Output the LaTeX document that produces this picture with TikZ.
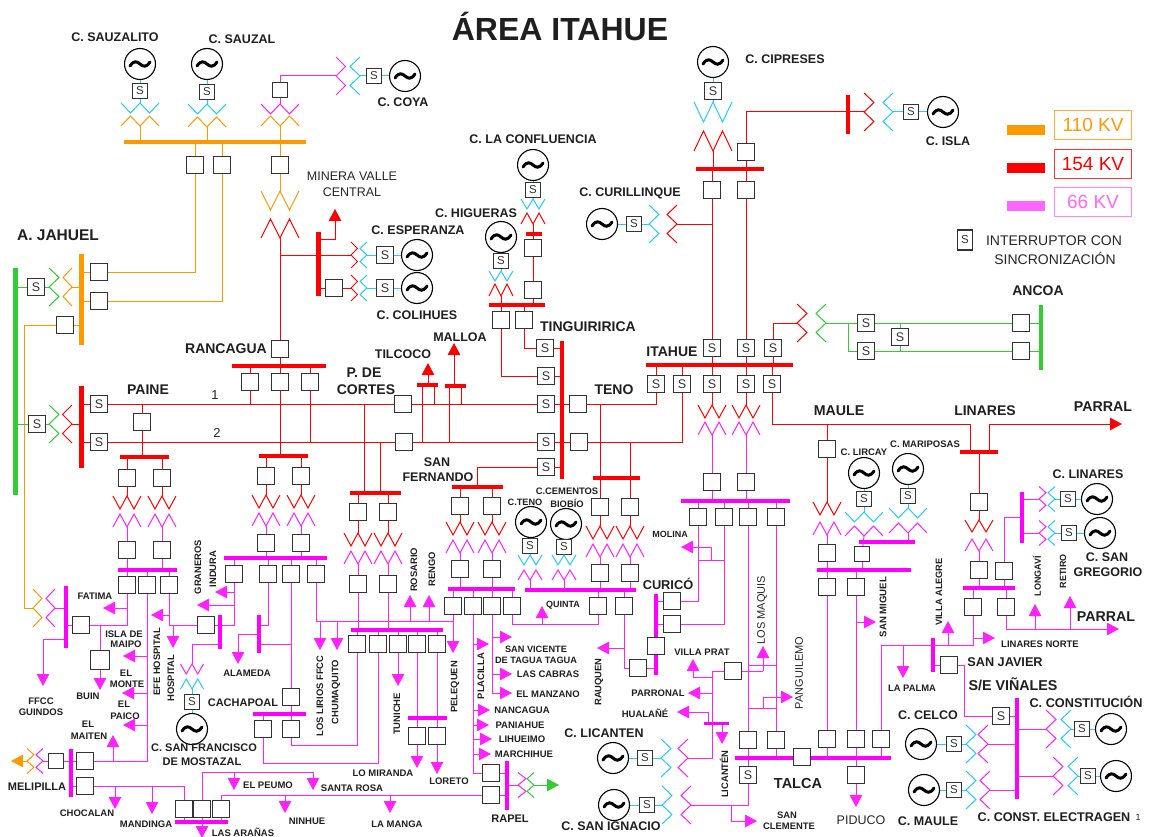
\documentclass[tikz,border=0pt]{standalone}
\usepackage{fontspec}
\setmainfont{Liberation Sans}
\usetikzlibrary{arrows.meta}
\pgfdeclarelayer{bg}\pgfsetlayers{bg,main}
\definecolor{cO}{HTML}{FF9900}
\definecolor{cR}{HTML}{FF0000}
\definecolor{cM}{HTML}{FF00FF}
\definecolor{cP}{HTML}{FF22FF}
\definecolor{cL}{HTML}{FF66FF}
\definecolor{cC}{HTML}{22CCFF}
\definecolor{cG}{HTML}{33CC33}
\definecolor{cK}{HTML}{333333}
\tikzset{
 lr/.style={draw=cR,line width=1pt},
 lo/.style={draw=cO,line width=1pt},
 lm/.style={draw=cP,line width=1pt},
 lc/.style={draw=cC,line width=1pt},
 lg/.style={draw=cG,line width=1pt},
 ar/.style={-{Triangle[length=12pt,width=12.5pt]},fill=none},
 bkb/.style={draw=cK,line width=1.2pt,fill=white,inner sep=0pt,minimum size=17pt},
 swb/.style={bkb,minimum size=15.5pt,font=\fontsize{11.5}{11.5}\selectfont,text=cK},
 gnb/.style={draw=black,line width=1.1pt,fill=white,circle,inner sep=0pt,minimum size=31pt},
 lgb/.style={line width=1.1pt,inner sep=0pt,minimum width=77pt,minimum height=29pt,font=\fontsize{19}{19}\selectfont},
}
\newcount\nid
\newcommand\Bk[3]{\node[bkb] (#1) at (#2,#3) {};}
\newcommand\Bs[3]{\node[bkb,minimum size=15pt] (#1) at (#2,#3) {};}
\newcommand\Sw[3]{\node[swb] (#1) at (#2,#3) {S};}
\newcommand\Sb[3]{\node[swb,minimum size=17pt,font=\fontsize{12.5}{12.5}\selectfont] (#1) at (#2,#3) {S};}
\newcommand\Gn[3]{\node[gnb] (#1) at (#2,#3) {};\draw[line width=3pt,line cap=round] ({#2-10},{#3+2}) .. controls ({#2-6},{#3-4}) and ({#2-3},{#3-2.5}) .. (#2,#3) .. controls ({#2+3},{#3+2.5}) and ({#2+6},{#3+4}) .. ({#2+10},{#3-2});}
% vertical zigzag: name,x,y,w,h,style
\newcommand\Zz[6]{\coordinate (#1) at (#2,#3);\draw[#6,line join=miter] ({#2-(#4)},#3) -- ++({(#4)/2},{#5}) -- ++({(#4)/2},{-1*(#5)}) -- ++({(#4)/2},{#5}) -- ++({(#4)/2},{-1*(#5)});}
\newcommand\Zh[6]{\coordinate (#1) at (#2,#3);\draw[#6,line join=miter] (#2,{#3-(#4)}) -- ++({#5},{(#4)/2}) -- ++({-1*(#5)},{(#4)/2}) -- ++({#5},{(#4)/2}) -- ++({-1*(#5)},{(#4)/2});}
\newcommand\Hb[6]{\node[fill=#6,inner sep=0pt,minimum width={(#3-#2)*1pt},minimum height=#5pt] (#1) at ({(#2+#3)/2},#4) {};}
\newcommand\Vb[6]{\node[fill=#6,inner sep=0pt,minimum height={(#4-#3)*1pt},minimum width=#5pt] (#1) at (#2,{(#3+#4)/2}) {};}
\newcommand\Cn[3]{\draw[#1] (#2) -- (#3);}
\newcommand\Vl[3]{\draw[#1] (#2) -- (#2 |- #3);}
\newcommand\Hl[3]{\draw[#1] (#2) -- (#2 -| #3);}
\newcommand\Pt[3]{\coordinate (#1) at (#2,#3);}
\newcommand\As[5]{\global\advance\nid by 1 \coordinate (p\the\nid a) at (#2,#3);\coordinate (p\the\nid b) at (#4,#5);\draw[#1,ar] (p\the\nid a) -- (p\the\nid b);}
\newcommand\Ah[5]{\global\advance\nid by 1 \coordinate (p\the\nid a) at (#2,#3);\coordinate (p\the\nid b) at (#4,#5);\draw[#1,ar] (p\the\nid a) -| (p\the\nid b);}
\newcommand\Av[5]{\global\advance\nid by 1 \coordinate (p\the\nid a) at (#2,#3);\coordinate (p\the\nid b) at (#4,#5);\draw[#1,ar] (p\the\nid a) |- (p\the\nid b);}
\newcommand\Wr[5]{\global\advance\nid by 1 \coordinate (p\the\nid a) at (#2,#3);\coordinate (p\the\nid b) at (#4,#5);\draw[#1] (p\the\nid a) -- (p\the\nid b);}
\newcommand\Lb[4][12.5]{\global\advance\nid by 1 \node[inner sep=0pt,text=black!88,font=\bfseries\fontsize{#1}{#1}\selectfont] (t\the\nid) at (#2,#3) {#4};}
\newcommand\Lr[4][9.4]{\global\advance\nid by 1 \node[inner sep=0pt,rotate=90,text=black!88,font=\bfseries\fontsize{#1}{#1}\selectfont] (t\the\nid) at (#2,#3) {#4};}
\newcommand\Ln[4][12.5]{\global\advance\nid by 1 \node[inner sep=0pt,text=black!85,font=\fontsize{#1}{#1}\selectfont] (t\the\nid) at (#2,#3) {#4};}
\newcommand\Lq[4][11]{\global\advance\nid by 1 \node[inner sep=0pt,rotate=90,text=black!85,font=\fontsize{#1}{#1}\selectfont] (t\the\nid) at (#2,#3) {#4};}
% breaker + red zigzag + pink zigzag + breaker
\newcommand\Xf[8]{\Bk{#1a}{#2}{#3}\Zz{#1b}{#2}{#4}{#7}{#8}{lr}\Zz{#1c}{#2}{#5}{#7}{-#8}{lm}\Bk{#1d}{#2}{#6}%
\begin{pgfonlayer}{bg}\draw[lr] (#1a) -- (#1b);\draw[lm] (#1c) -- (#1d);\end{pgfonlayer}}
\begin{document}
\begin{tikzpicture}[x=1pt,y=-1pt]
\useasboundingbox (0,0) rectangle (1150,837);
% ===== BUSES =====
\Hb{bO}{124}{306}{142}{4}{cO}
\Vb{bJ}{15}{268}{495}{5}{cG}
\Vb{bJo}{81}{254}{345}{5}{cO}
\Vb{bJr}{81}{386}{468}{5}{cR}
\Vb{bMv}{318}{232}{296}{5}{cR}
\Hb{bRa}{232}{326}{366}{4}{cR}
\Hb{bPa}{120}{169}{457}{4}{cR}
\Hb{bRb}{259}{308}{456}{4}{cR}
\Hb{bCo}{350}{401}{493}{4}{cR}
\Vb{bTi}{562}{341}{479}{4.5}{cR}
\Hb{bSF}{452}{503}{487}{4}{cR}
\Hb{bTe}{593}{640}{478}{3.5}{cR}
\Hb{bHi}{489}{545}{305}{3.5}{cR}
\Hb{bLC}{526}{542}{234}{3.5}{cR}
\Hb{bIt}{646}{793}{365}{4.5}{cR}
\Hb{bCi}{696}{764}{169}{4.5}{cR}
\Vb{bIs}{848}{95}{134}{4.5}{cR}
\Vb{bAn}{1041}{305}{370}{4}{cG}
\Hb{bLi}{960}{998}{452}{4}{cR}
\Hb{bTl}{417}{438}{385}{3.5}{cR}
\Hb{bMl}{445}{466}{386}{3.5}{cR}
\Hb{mFa}{118}{177}{570}{4}{cM}
\Vb{mA}{66}{586}{648}{4}{cM}
\Hb{mG}{224}{327}{558}{4}{cM}
\Vb{mH}{220}{615}{649}{4}{cM}
\Vb{mAl}{259}{615}{653}{4}{cM}
\Hb{mCa}{253}{306}{714}{4}{cM}
\Hb{mCh}{351}{443}{630}{4}{cM}
\Hb{mTu}{408}{447}{718}{3.5}{cM}
\Vb{mMe}{71}{749}{797}{4}{cM}
\Hb{mAr}{175}{228}{822}{3.5}{cM}
\Hb{mPl}{448}{515}{589}{4}{cM}
\Hb{mQu}{525}{636}{590}{4}{cM}
\Vb{mCu}{656}{594}{675}{4}{cM}
\Vb{mRa}{507}{761}{810}{3.5}{cM}
\Hb{mMo}{681}{790}{501}{4}{cM}
\Hb{mSm}{704}{729}{723}{3}{cM}
\Hb{mTa}{735}{891}{758}{4}{cM}
\Hb{mMa}{817}{911}{570}{4}{cM}
\Hb{mLi}{859}{915}{542}{3.5}{cM}
\Hb{mLn}{963}{1015}{588}{4}{cM}
\Vb{mLv}{1022}{492}{543}{4}{cM}
\Vb{mSJ}{933}{638}{672}{3.5}{cM}
\Vb{mVi}{1017}{698}{799}{4}{cM}
% ===== TOP LEFT =====
\Gn{gSa}{140}{64}\Sw{sSa}{140}{91}\Zz{zcSa}{140}{103}{19}{10}{lc}\Zz{zoSa}{140}{126}{19}{-10}{lo}
\Gn{gSu}{207}{64}\Sw{sSu}{207}{92}\Zz{zcSu}{207}{104}{19}{10}{lc}\Zz{zoSu}{207}{127}{19}{-10}{lo}
\Bs{bk3}{280}{90}\Zz{zm3}{280}{104}{19}{10}{lm}\Zz{zo3}{280}{126}{19}{-10}{lo}
\Zh{zhP}{336}{76}{19}{9.5}{lm}\Zh{zhC}{360}{76}{19}{-10}{lc}\Sw{sCo}{374}{76}\Gn{gCo}{405}{76}
\Bk{bA}{195}{165}\Bk{bB}{222}{165}\Bk{bC}{280}{165}
\Zz{zoW}{280}{191}{19}{19}{lo}\Zz{zrM}{280}{238}{19}{-19}{lr}
\Bk{bRc}{280}{349}
\Zh{zrE}{351}{255}{13}{6.5}{lr}\Zh{zcE}{367}{255}{13}{-7}{lc}\Sb{sE}{385}{255}\Gn{gE}{417}{255}
\Bk{bCh}{334}{288}\Zh{zrC}{351}{288}{13}{6.5}{lr}\Zh{zcC}{367}{288}{13}{-7}{lc}\Sb{sC}{385}{288}\Gn{gC}{417}{288}
% Jahuel
\Sb{sJ}{36}{287}\Zh{zgJ}{49}{287}{19}{10}{lg}\Zh{zoJ}{72}{287}{19}{-9}{lo}
\Bk{bJ1}{99}{272}\Bk{bJ2}{99}{301}\Bk{bJ3}{65}{325}
\Zh{zoA}{33}{608}{19}{9}{lo}\Zh{zmA}{55}{608}{19}{-9}{lm}
\Sb{sPg}{37}{424}\Zh{zgP}{49}{424}{19}{10}{lg}\Zh{zrP}{72}{424}{19}{-9.5}{lr}
\Sb{sP1}{99}{404}\Sb{sP2}{99}{442}\Bk{bC1}{403}{404}\Bk{bC2}{404}{442}
\Bk{bPn}{142}{422}
\Xf{P1}{127}{478}{496}{527}{550}{14}{13}
\Xf{P2}{162}{478}{496}{527}{550}{14}{13}
\Bk{rA}{250}{382}\Bk{rB}{280}{382}\Bk{rC}{310}{382}
\Xf{R1}{266}{476}{495}{526}{543}{14}{13}
\Xf{R2}{301}{476}{495}{526}{543}{14}{13}
\Xf{C1}{358}{512}{533}{564}{584}{14}{13}
\Xf{C2}{388}{512}{533}{564}{584}{14}{13}
\Bk{bF1}{127}{585}\Bk{bF2}{147}{585}\Bk{bF3}{169}{585}
\Bk{bA1}{81}{625}\node[bkb,minimum size=19pt] (bBu) at (100,660) {};
\Bk{bFh}{206}{625}
\Zz{zpS}{192}{664}{11.5}{10}{lm}\Zz{zcS}{192}{689}{11.5}{-10}{lc}\Sw{sFr}{192}{702}\Gn{gFr}{192}{729}
\Bk{bG1}{234}{574}\Bk{bG2}{268}{574}\Bk{bG3}{291}{574}\Bk{bG4}{316}{574}
\Bk{bCa0}{291}{697}\Bk{bCa1}{263}{729}\Bk{bCa2}{291}{729}
\Bk{bCh1}{357}{644}\Bk{bCh2}{378}{644}\Bk{bCh3}{398}{644}\Bk{bCh4}{417}{644}\Bk{bCh5}{437}{644}
\Bk{bTu1}{417}{736}\Bk{bTu2}{437}{736}
\Bs{bMe0}{56}{761}\Bk{bMe1}{85}{761}\Bk{bMe2}{85}{786}
\Zh{zmMe}{43}{761}{12.5}{-7}{lm}\Zh{zoMe}{27}{761}{12.5}{7}{lo}
\Bk{bAr1}{184}{809}\Bk{bAr2}{202}{809}\Bk{bAr3}{221}{809}
% ===== CENTRE =====
\Sb{sT1}{545}{348}\Sb{sT2}{546}{376}\Sb{sT3}{546}{404}\Sb{sT4}{546}{442}\Sb{sT5}{546}{467}
\Bk{bT1}{578}{404}\Bk{bT2}{579}{442}
\Bk{bH1}{501}{320}\Bk{bH2}{524}{320}
\Gn{gHi}{501}{237}\Sw{sHi}{501}{261}\Zz{zcHi}{501}{271}{12}{10}{lc}\Zz{zrHi}{501}{296}{12}{-12}{lr}
\Bk{bLa}{533}{290}\Bk{bLb}{533}{248}\Zz{zrLC}{533}{224}{12}{-11}{lr}\Zz{zcLC}{533}{199}{12}{10}{lc}\Sw{sLC}{533}{190}\Gn{gLC}{533}{165}
\Xf{F1}{460}{506}{522}{553}{569}{14}{13}
\Xf{F2}{492}{506}{522}{553}{569}{14}{13}
\Xf{T1}{600}{507}{526}{557}{573}{14}{13}
\Xf{T2}{630}{507}{526}{557}{573}{14}{13}
\Bk{bQ1}{598}{606}\Bk{bQ2}{624}{606}\Bk{bQ3}{638}{668}
\Gn{gTe}{531}{522}\Sw{sTe}{530}{546}\Zz{zcTe}{530}{555}{12}{10}{lc}\Zz{zmTe}{530}{580}{12}{-10}{lm}
\Gn{gCe}{566}{524}\Sw{sCe}{564}{547}\Zz{zcCe}{564}{555}{12}{10}{lc}\Zz{zmCe}{564}{580}{12}{-10}{lm}
\Bk{bP1}{453}{606}\Bk{bP2}{473}{606}\Bk{bP3}{492}{606}\Bk{bP4}{512}{606}
\Bk{bR1}{491}{773}\Bk{bR2}{491}{795}\Zh{zmR}{518}{785}{12.5}{8}{lm}\Zh{zgR}{534}{785}{12.5}{-7}{lg}
\Bk{bCu1}{672}{601}\Bk{bCu2}{672}{624}\Bk{bCu3}{656}{646}
\Sb{sI4}{656}{384}\Sb{sI5}{682}{384}\Sb{sI1}{712}{384}\Sb{sI2}{746}{384}\Sb{sI3}{772}{384}
\Sb{uI1}{712}{348}\Sb{uI2}{746}{348}\Sb{uI3}{773}{348}
\Zz{zI1}{712}{405}{14}{13}{lr}\Zz{mI1}{712}{435}{14}{-13}{lm}\Bk{bI1}{712}{482}
\Zz{zI2}{746}{405}{14}{13}{lr}\Zz{mI2}{746}{435}{14}{-13}{lm}\Bk{bI2}{746}{482}
\Bk{bM1}{698}{517}\Bk{bM2}{724}{517}\Bk{bM3}{748}{517}\Bk{bM4}{776}{517}
\Bk{bCi1}{712}{190}\Bk{bCi2}{746}{190}\Bk{bCt}{746}{152}
\Gn{gCi}{713}{62}\Sb{sCi}{713}{91}\Zz{zcCi}{713}{102}{19}{20}{lc}\Zz{zrCi}{713}{151}{19}{-20}{lr}
\Zh{zrI}{864}{112}{19}{10}{lr}\Zh{zcI}{893}{112}{19}{-10}{lc}\Sw{sIs}{911}{112}\Gn{gIs}{943}{112}
\Zh{zrCu}{677}{224}{19}{-10}{lr}\Zh{zcCu}{649}{224}{19}{10}{lc}\Sw{sCu}{634}{224}\Gn{gCu}{602}{224}
\Zh{zrA}{797}{323}{19}{10}{lr}\Zh{zgA}{826}{323}{19}{-10}{lg}
\Sb{sA1}{866}{323}\Sb{sA2}{866}{351}\Sb{sA3}{900}{337}\Bk{bA3}{1021}{323}\Bk{bA2}{1021}{351}
% lower centre
\Bk{bVP}{733}{671}
\Zh{zcL}{661}{758}{19}{10}{lc}\Zh{zmL}{688}{758}{19}{-10}{lm}\Sw{sLc}{645}{758}\Gn{gLc}{613}{758}
\Zh{zcN}{662}{805}{19}{10}{lc}\Zh{zmN}{691}{805}{19}{-10}{lm}\Sw{sNg}{647}{805}\Gn{gNg}{614}{805}
\Sb{sTa}{748}{775}
\Bk{bTa1}{748}{740}\Bk{bTa2}{776}{740}\Bk{bTa3}{827}{739}\Bk{bTa4}{856}{739}\Bk{bTa5}{881}{739}\Bk{bTaC}{802}{757}\Bk{bPd}{856}{775}
% ===== RIGHT =====
\Xf{Ma}{827}{449}{502}{535}{553}{14}{13}
\Bk{bMa1}{827}{587}\Bk{bMa2}{856}{587}
\Gn{gLr}{864}{473}\Sw{sLr}{864}{499}\Zz{zcLr}{864}{512}{19}{10}{lc}\Zz{zmLr}{864}{536}{19}{-10}{lm}\Bs{bLm}{862}{554}
\Gn{gMp}{908}{469}\Sw{sMp}{908}{496}\Zz{zcMp}{908}{508}{19}{10}{lc}\Zz{zmMp}{908}{533}{19}{-10}{lm}
\Xf{Ln}{979}{502}{520}{551}{570}{14}{12}
\Bk{bL2}{1004}{571}\Bk{bL3}{973}{607}\Bk{bL4}{1006}{607}
\Zh{zmL1}{1039}{499}{12.5}{7}{lm}\Zh{zcL1}{1055}{499}{12.5}{-7}{lc}\Sw{sL1}{1068}{499}\Gn{gL1}{1097}{499}
\Zh{zmL2}{1039}{533}{12.5}{7}{lm}\Zh{zcL2}{1055}{533}{12.5}{-7}{lc}\Sw{sL2}{1069}{533}\Gn{gL2}{1100}{533}
\Bk{bSJ}{949}{665}\Sb{sV1}{1001}{716}
\Zh{zmCo}{1046}{729}{19}{10}{lm}\Zh{zcCo}{1071}{729}{19}{-10}{lc}\Sw{sCn}{1082}{729}\Gn{gCn}{1111}{729}
\Zh{zmEl}{1053}{776}{19}{10}{lm}\Zh{zcEl}{1078}{776}{19}{-10}{lc}\Sw{sEl}{1088}{776}\Gn{gEl}{1116}{776}
\Zh{zcCl}{966}{744}{19}{10}{lc}\Zh{zmCl}{988}{744}{19}{-10}{lm}\Sw{sCl}{954}{744}\Gn{gCl}{921}{744}
\Zh{zcMu}{966}{790}{19}{10}{lc}\Zh{zmMu}{990}{790}{19}{-10}{lm}\Sw{sMu}{954}{790}\Gn{gMu}{924}{790}
% ===== CONNECTORS =====
\begin{pgfonlayer}{bg}
\Cn{lc}{gSa}{sSa}\Cn{lc}{sSa}{zcSa}\Vl{lo}{zoSa}{bO}
\Cn{lc}{gSu}{sSu}\Cn{lc}{sSu}{zcSu}\Vl{lo}{zoSu}{bO}
\Cn{lm}{bk3}{zm3}\Vl{lo}{zo3}{bO}\draw[lm] (bk3) |- (zhP);
\Cn{lc}{zhC}{sCo}\Cn{lc}{sCo}{gCo}
\Vl{lo}{bA}{bO}\Vl{lo}{bB}{bO}\Vl{lo}{bC}{bO}
\draw[lo] (bA) |- (bJ1);\draw[lo] (bB) |- (bJ2);
\Cn{lo}{bC}{zoW}\Cn{lr}{zrM}{bRc}\Vl{lr}{bRc}{bRa}
\Pt{jM}{280}{255}\Cn{lr}{jM}{zrE}
\Ah{lr}{318}{239}{335}{209}
\Cn{lc}{zcE}{sE}\Cn{lc}{sE}{gE}
\Hl{lr}{bCh}{bMv}\Cn{lr}{bCh}{zrC}\Cn{lc}{zcC}{sC}\Cn{lc}{sC}{gC}
% Jahuel
\Hl{lg}{sJ}{bJ}\Cn{lg}{sJ}{zgJ}\Hl{lo}{zoJ}{bJo}
\Hl{lo}{bJ1}{bJo}\Hl{lo}{bJ2}{bJo}\Hl{lo}{bJ3}{bJo}
\draw[lo] (bJ3) -| (24,608) -- (zoA);
\Hl{lm}{zmA}{mA}
\Hl{lg}{sPg}{bJ}\Cn{lg}{sPg}{zgP}\Hl{lr}{zrP}{bJr}
\Hl{lr}{sP1}{bJr}\Hl{lr}{sP2}{bJr}\Cn{lr}{sP1}{bC1}\Cn{lr}{sP2}{bC2}
\draw[lr] (bPn) -- (bPn |- sP1);\Vl{lr}{bPn}{bPa}
\Vl{lr}{P1a}{bPa}\Vl{lr}{P2a}{bPa}\Vl{lm}{P1d}{mFa}\Vl{lm}{P2d}{mFa}
% Rancagua
\Vl{lr}{rA}{bRa}\Vl{lr}{rB}{bRa}\Vl{lr}{rC}{bRa}
\draw[lr] (rA) -- (rA |- sP1);\draw[lr] (rB) -- (rB |- bRb);\draw[lr] (rC) -- (rC |- sP2);
\Vl{lr}{R1a}{bRb}\Vl{lr}{R2a}{bRb}\Vl{lm}{R1d}{mG}\Vl{lm}{R2d}{mG}
% Cortes
\Pt{jC1}{364}{404}\Pt{jC2}{380}{442}
\Vl{lr}{jC1}{bCo}\Vl{lr}{jC2}{bCo}\Vl{lr}{C1a}{bCo}\Vl{lr}{C2a}{bCo}\Vl{lm}{C1d}{mCh}\Vl{lm}{C2d}{mCh}
% Tilcoco, Malloa
\Wr{lr}{422}{385}{422}{442}\Wr{lr}{434}{385}{434}{404}\As{lr}{428}{385}{428}{363}
\Wr{lr}{449}{386}{449}{442}\Wr{lr}{461}{386}{461}{404}\As{lr}{454}{386}{454}{343}
% Tinguiririca
\Hl{lr}{sT1}{bTi}\Hl{lr}{sT2}{bTi}\Hl{lr}{sT3}{bTi}\Hl{lr}{sT4}{bTi}\Hl{lr}{sT5}{bTi}
\Hl{lr}{bT1}{bTi}\Hl{lr}{bT2}{bTi}
\Cn{lr}{bC1}{sT3}\Cn{lr}{bC2}{sT4}
\draw[lr] (sT1) -| (bH2);\draw[lr] (sT2) -| (bH1);
\Vl{lr}{bH1}{bHi}\Vl{lr}{bH2}{bHi}
\Cn{lc}{gHi}{sHi}\Cn{lc}{sHi}{zcHi}\Vl{lr}{zrHi}{bHi}
\Vl{lr}{bLa}{bHi}\Cn{lr}{bLa}{bLb}\Vl{lr}{bLb}{bLC}\Vl{lr}{zrLC}{bLC}
\Cn{lc}{gLC}{sLC}\Cn{lc}{sLC}{zcLC}
\Pt{jSF}{477}{487}\draw[lr] (sT5) -| (jSF);
\Vl{lr}{F1a}{bSF}\Vl{lr}{F2a}{bSF}\Vl{lm}{F1d}{mPl}\Vl{lm}{F2d}{mPl}
% Teno
\draw[lr] (bT1) -| (sI4);\draw[lr] (bT2) -| (sI5);
\Pt{jT1}{600}{404}\Pt{jT2}{630}{442}
\Vl{lr}{jT1}{bTe}\Vl{lr}{jT2}{bTe}\Vl{lr}{T1a}{bTe}\Vl{lr}{T2a}{bTe}
\Vl{lm}{T1d}{mQu}\Vl{lm}{T2d}{mQu}\Vl{lm}{bQ1}{mQu}\Vl{lm}{bQ2}{mQu}
\Cn{lc}{gTe}{sTe}\Cn{lc}{sTe}{zcTe}\Vl{lm}{zmTe}{mQu}
\Cn{lc}{gCe}{sCe}\Cn{lc}{sCe}{zcCe}\Vl{lm}{zmCe}{mQu}
\draw[lm] (bQ1) -- (598,624) -| (bP4);
\As{lm}{542}{624}{542}{606}
\draw[lm] (bQ2) |- (bQ3);\Hl{lm}{bQ3}{mCu}
\As{lm}{624}{648}{597}{648}
\Hl{lm}{bCu1}{mCu}\Hl{lm}{bCu2}{mCu}
\draw[lm] (bCu1) -| (bM1);\draw[lm] (bCu2) -| (bM2);
\Vl{lm}{bM1}{mMo}\Vl{lm}{bM2}{mMo}\Vl{lm}{bM3}{mMo}\Vl{lm}{bM4}{mMo}
\Wr{lm}{698}{560}{724}{560}\Wr{lm}{711}{560}{711}{547}\As{lm}{711}{547}{681}{547}
% Itahue
\Vl{lr}{sI1}{bIt}\Vl{lr}{sI2}{bIt}\Vl{lr}{sI3}{bIt}\Vl{lr}{sI4}{bIt}\Vl{lr}{sI5}{bIt}
\Vl{lr}{uI1}{bIt}\Vl{lr}{uI2}{bIt}\Vl{lr}{uI3}{bIt}
\Cn{lr}{sI1}{zI1}\Cn{lm}{mI1}{bI1}\Vl{lm}{bI1}{mMo}
\Cn{lr}{sI2}{zI2}\Cn{lm}{mI2}{bI2}\Vl{lm}{bI2}{mMo}
\Cn{lr}{uI1}{bCi1}\Cn{lr}{uI2}{bCi2}
\draw[lr] (uI3) |- (zrA);
\Vl{lr}{bCi1}{bCi}\Vl{lr}{bCi2}{bCi}\Vl{lr}{bCt}{bCi}
\Cn{lc}{gCi}{sCi}\Cn{lc}{sCi}{zcCi}\Vl{lr}{zrCi}{bCi}
\draw[lr] (bCt) |- (zrI);
\Cn{lc}{zcI}{sIs}\Cn{lc}{sIs}{gIs}
\Pt{jCu}{712}{224}\Cn{lr}{zrCu}{jCu}\Cn{lc}{zcCu}{sCu}\Cn{lc}{sCu}{gCu}
% Ancoa
\Cn{lg}{zgA}{sA1}\Cn{lg}{sA1}{bA3}\Cn{lg}{sA2}{bA2}
\Pt{jAn}{848}{323}\draw[lg] (jAn) |- (sA2);
\draw[lg] (sA3) -- (sA3 |- sA1);\draw[lg] (sA3) -- (sA3 |- sA2);
\Hl{lg}{bA3}{bAn}\Hl{lg}{bA2}{bAn}
% Maule, Linares red
\Pt{jLi}{970}{452}\draw[lr] (sI3) -- (772,424) -- (970,424) -- (jLi);
\Av{lr}{989}{452}{1122}{424}
\Pt{jMa}{827}{424}\Cn{lr}{Maa}{jMa}
\Vl{lm}{Mad}{mMa}\Vl{lm}{bMa1}{mMa}\Vl{lm}{bMa2}{mMa}
\Cn{lm}{bMa1}{bTa3}\Cn{lm}{bMa2}{bTa4}
\As{lm}{856}{622}{876}{622}
\Cn{lc}{gLr}{sLr}\Cn{lc}{sLr}{zcLr}\Cn{lm}{zmLr}{bLm}\Vl{lm}{bLm}{mMa}
\Cn{lc}{gMp}{sMp}\Cn{lc}{sMp}{zcMp}\Vl{lm}{zmMp}{mLi}
\Vl{lr}{Lna}{bLi}\Vl{lm}{Lnd}{mLn}\Vl{lm}{bL2}{mLn}\Vl{lm}{bL3}{mLn}\Vl{lm}{bL4}{mLn}
\draw[lm] (bL2) |- (mLv);
\Hl{lm}{zmL1}{mLv}\Cn{lc}{zcL1}{sL1}\Cn{lc}{sL1}{gL1}
\Hl{lm}{zmL2}{mLv}\Cn{lc}{zcL2}{sL2}\Cn{lc}{sL2}{gL2}
\Pt{tPa}{1119}{629}\draw[lm,ar] (bL4) |- (tPa);
\As{lm}{1035}{629}{1035}{604}\As{lm}{1070}{629}{1070}{596}
\draw[lm] (bL3) -- (973,645) -| (bTa5);
\As{lm}{973}{638}{995}{638}\As{lm}{948}{645}{948}{621}\As{lm}{903}{645}{903}{678}
\Hl{lm}{bSJ}{mSJ}\draw[lm] (bSJ) -- (964,665) |- (sV1);
\Hl{lm}{sV1}{mVi}\Hl{lm}{zmCo}{mVi}\Hl{lm}{zmEl}{mVi}\Hl{lm}{zmCl}{mVi}\Hl{lm}{zmMu}{mVi}
\Cn{lc}{zcCo}{sCn}\Cn{lc}{sCn}{gCn}\Cn{lc}{zcEl}{sEl}\Cn{lc}{sEl}{gEl}
\Cn{lc}{zcCl}{sCl}\Cn{lc}{sCl}{gCl}\Cn{lc}{zcMu}{sMu}\Cn{lc}{sMu}{gMu}
% Talca
\Vl{lm}{bTa1}{mTa}\Vl{lm}{bTa2}{mTa}\Vl{lm}{bTa3}{mTa}\Vl{lm}{bTa4}{mTa}\Vl{lm}{bTa5}{mTa}
\Vl{lm}{bPd}{mTa}\Pt{tPd}{856}{807}\draw[lm,ar] (bPd) -- (tPd);
\Vl{lm}{sTa}{mTa}
\Cn{lm}{bM3}{bTa1}\Cn{lm}{bM4}{bTa2}
\Wr{lm}{748}{665}{776}{665}\Wr{lm}{748}{708}{776}{708}
\Pt{jVP}{763}{671}\Cn{lm}{bVP}{jVP}\As{lm}{763}{671}{763}{646}
\Av{lm}{763}{708}{793}{697}
\draw[lm] (bVP) -- (712,671) -- (712,758) -- (zmL);
\Ah{lm}{712}{677}{693}{659}\As{lm}{712}{693}{688}{693}
\Av{lm}{708}{723}{677}{712}\As{lm}{722}{723}{722}{744}
\Cn{lc}{zcL}{sLc}\Cn{lc}{sLc}{gLc}\Cn{lc}{zcN}{sNg}\Cn{lc}{sNg}{gNg}
\draw[lm] (zmN) -| (sTa);\Av{lm}{731}{805}{757}{821}
% Lower left
\Vl{lm}{bF1}{mFa}\Vl{lm}{bF2}{mFa}\Vl{lm}{bF3}{mFa}
\draw[lm] (bF1) |- (bA1);\Hl{lm}{bA1}{mA}
\As{lm}{127}{608}{103}{608}
\Pt{jBu}{100}{625}\Cn{lm}{jBu}{bBu}\Pt{tBu}{100}{690}\draw[lm,ar] (bBu) -- (tBu);
\Ah{lm}{66}{639}{43}{686}
\draw[lm] (bF2) |- (bMe1);
\As{lm}{147}{656}{123}{656}\As{lm}{147}{693}{122}{693}\As{lm}{147}{725}{123}{725}\As{lm}{113}{761}{113}{735}
\draw[lm] (bF3) |- (bFh);\As{lm}{169}{615}{151}{615}\As{lm}{173}{625}{173}{648}
\Hl{lm}{bFh}{mH}
\draw[lm] (bG1) |- (bFh);\As{lm}{234}{592}{215}{592}\As{lm}{234}{605}{197}{605}
\Pt{jHm}{220}{644}\draw[lm] (jHm) -| (zpS);
\Cn{lc}{zcS}{sFr}\Cn{lc}{sFr}{gFr}
\Vl{lm}{bG1}{mG}\Vl{lm}{bG2}{mG}\Vl{lm}{bG3}{mG}\Vl{lm}{bG4}{mG}
\draw[lm] (bG2) -- (268,625) -- (259,625);
\Ah{lm}{257}{634}{238}{664}
\Wr{lm}{259}{644}{291}{644}
\Cn{lm}{bG3}{bCa0}\Vl{lm}{bCa0}{mCa}\Vl{lm}{bCa1}{mCa}\Vl{lm}{bCa2}{mCa}
\draw[lm] (bCa2) -- (291,745) -| (bCh1);
\draw[lm] (bCa1) -- (263,763) -| (bCh2);
\Pt{jPe}{453}{621}\draw[lm] (bG4) |- (jPe);
\Vl{lm}{bP1}{mPl}\Vl{lm}{bP2}{mPl}\Vl{lm}{bP3}{mPl}\Vl{lm}{bP4}{mPl}
\Pt{tPe}{453}{653}\draw[lm,ar] (bP1) -- (tPe);
\As{lm}{320}{621}{320}{650}\As{lm}{337}{621}{337}{650}
\As{lm}{410}{621}{410}{595}\As{lm}{429}{621}{429}{595}
\Vl{lm}{bCh1}{mCh}\Vl{lm}{bCh2}{mCh}\Vl{lm}{bCh3}{mCh}\Vl{lm}{bCh4}{mCh}\Vl{lm}{bCh5}{mCh}
\Pt{tTu}{398}{686}\draw[lm,ar] (bCh3) -- (tTu);
\Vl{lm}{bCh4}{mTu}\Vl{lm}{bCh5}{mTu}\Vl{lm}{bTu1}{mTu}\Vl{lm}{bTu2}{mTu}
\Pt{tTa}{417}{768}\draw[lm,ar] (bTu1) -- (tTa);
\Pt{tTb}{437}{774}\draw[lm,ar] (bTu2) -- (tTb);
\Hl{lm}{bMe0}{mMe}\Hl{lm}{bMe1}{mMe}\Hl{lm}{bMe2}{mMe}\Cn{lm}{bMe0}{zmMe}
\Pt{tMe}{11}{761}\draw[lo,ar] (zoMe) -- (tMe);
\draw[lm] (bMe2) -| (bAr1);
\As{lm}{115}{786}{115}{809}\As{lm}{152}{786}{152}{814}
\Vl{lm}{bAr1}{mAr}\Vl{lm}{bAr2}{mAr}\Vl{lm}{bAr3}{mAr}
\As{lm}{202}{822}{202}{838}
\Pt{tSR}{313}{790}\draw[lm,ar] (bAr2) -- (202,772) -- (313,772) -- (tSR);
\As{lm}{234}{772}{234}{790}
\draw[lm] (bR2) -| (bAr3);
\As{lm}{285}{795}{285}{813}\As{lm}{390}{795}{390}{813}
% Placilla
\draw[lm] (bP2) |- (bR1);\Hl{lm}{bR1}{mRa}\Hl{lm}{bR2}{mRa}
\As{lm}{473}{644}{489}{644}\As{lm}{473}{710}{490}{710}\As{lm}{473}{725}{489}{725}\As{lm}{473}{739}{492}{739}\As{lm}{473}{754}{491}{754}
\Pt{tMz}{512}{693}\draw[lm,ar] (bP3) |- (tMz);
\As{lm}{492}{637}{512}{637}\As{lm}{492}{674}{512}{674}
\Hl{lm}{zmR}{mRa}\Pt{tRa}{559}{785}\draw[lg,ar] (zgR) -- (tRa);
\end{pgfonlayer}
% ===== LABELS =====
\Lb[32]{560}{26}{ÁREA ITAHUE}
\Lb{115}{37}{C. SAUZALITO}\Lb{242}{39}{C. SAUZAL}\Lb{403}{102}{C. COYA}
\Ln{352}{176}{MINERA VALLE}\Ln{352}{192}{CENTRAL}
\Lb{418}{230}{C. ESPERANZA}\Lb{417}{315}{C. COLIHUES}
\Lb[15.5]{58}{235}{A. JAHUEL}\Lb[14]{226}{349}{RANCAGUA}\Lb[14]{148}{390}{PAINE}
\Ln[13]{215}{395}{1}\Ln[13]{217}{433}{2}
\Lb[14]{364}{373}{P. DE}\Lb[14]{366}{390}{CORTES}
\Lb{403}{354}{TILCOCO}\Lb{460}{337}{MALLOA}
\Lb[14]{588}{327}{TINGUIRIRICA}\Lb[14]{672}{352}{ITAHUE}\Lb[14]{614}{390}{TENO}
\Lb[12.5]{437}{462}{SAN}\Lb[12.5]{438}{477}{FERNANDO}
\Lb[9.2]{525}{502}{C.TENO}\Lb[9.4]{567}{491}{C.CEMENTOS}\Lb[9.4]{567}{503}{BIOBÍO}
\Lb{533}{139}{C. LA CONFLUENCIA}\Lb{476}{213}{C. HIGUERAS}
\Lb{630}{193}{C. CURILLINQUE}\Lb{785}{59}{C. CIPRESES}\Lb{948}{141}{C. ISLA}
\Lb[14]{1038}{291}{ANCOA}
% legend
\Hb{lgO}{1007}{1045}{130}{10}{cO}\Hb{lgR}{1007}{1045}{168}{10}{cR}\Hb{lgP}{1007}{1045}{206}{10}{cL}
\node[lgb,draw=cO!80,text=cO] (boxO) at (1093,125) {110 KV};
\node[lgb,draw=cR!80,text=cR] (boxR) at (1093,164) {154 KV};
\node[lgb,draw=cL!80,text=cL] (boxP) at (1093,202) {66 KV};
\node[swb,minimum width=15pt,minimum height=20pt] (sLg) at (965,240) {S};
\Ln[14]{1054}{241}{INTERRUPTOR CON}\Ln[14]{1055}{258}{SINCRONIZACIÓN}
% lower-left labels
\Lb[9.5]{95}{596}{FATIMA}\Lb[9.5]{124}{634}{ISLA DE}\Lb[9.5]{126}{644}{MAIPO}
\Lb[9.5]{126}{673}{EL}\Lb[9.5]{127}{684}{MONTE}\Lb[9.5]{124}{704}{EL}\Lb[9.5]{125}{716}{PAICO}
\Lb[9.5]{88}{724}{EL}\Lb[9.5]{89}{736}{MAITEN}\Lb[9.5]{88}{696}{BUIN}
\Lb[9.5]{41}{701}{FFCC}\Lb[9.5]{41}{712}{GUINDOS}
\Lb[11]{37}{787}{MELIPILLA}\Lb[9.5]{87}{813}{CHOCALAN}\Lb[9.5]{146}{824}{MANDINGA}\Lb[9.5]{243}{832}{LAS ARAÑAS}
\Lb[9.5]{268}{785}{EL PEUMO}\Lb[9.5]{352}{788}{SANTA ROSA}\Lb[9.5]{307}{821}{NINHUE}\Lb[9.5]{397}{824}{LA MANGA}
\Lb[9.5]{383}{773}{LO MIRANDA}\Lb[9.5]{449}{781}{LORETO}\Lb[11]{510}{819}{RAPEL}
\Lb[11]{204}{748}{C. SAN FRANCISCO}\Lb[11]{202}{762}{DE MOSTAZAL}
\Lb[9.5]{247}{673}{ALAMEDA}\Lb[11]{243}{703}{CACHAPOAL}
\Lr{157}{662}{EFE HOSPITAL}\Lr{171}{678}{HOSPITAL}\Lr{198}{567}{GRANEROS}\Lr{213}{569}{INDURA}
\Lr{320}{696}{LOS LIRIOS FFCC}\Lr{336}{692}{CHUMAQUITO}\Lr{397}{714}{TUNICHE}
\Lr{414}{570}{ROSARIO}\Lr{432}{569}{RENGO}\Lr{455}{687}{PELEQUEN}\Lr{481}{676}{PLACILLA}\Lr{599}{682}{RAUQUEN}
\Lb[9]{563}{605}{QUINTA}\Lb[9]{670}{534}{MOLINA}\Lb[12.8]{668}{584}{CURICÓ}
\Lb[9.2]{536}{649}{SAN VICENTE}\Lb[9.2]{536}{660}{DE TAGUA TAGUA}
\Lb[9.5]{548}{674}{LAS CABRAS}\Lb[9.5]{548}{694}{EL MANZANO}
\Lb[9.5]{522}{710}{NANCAGUA}\Lb[9.5]{520}{725}{PANIAHUE}\Lb[9.5]{522}{739}{LIHUEIMO}\Lb[9.5]{524}{754}{MARCHIHUE}
\Lb[9.5]{702}{652}{VILLA PRAT}\Lb[9.5]{658}{693}{PARRONAL}\Lb[9.5]{645}{713}{HUALAÑÉ}
\Lb{604}{733}{C. LICANTEN}\Lb{611}{826}{C. SAN IGNACIO}
\Lr{724}{774}{LICANTÉN}
\Lq{762}{610}{LOS MAQUIS}\Lq{799}{673}{PANGUILEMO}
\Lb[9.4]{787}{815}{SAN}\Lb[9.4]{789}{826}{CLEMENTE}\Lb[14.5]{798}{783}{TALCA}\Ln[12.5]{861}{820}{PIDUCO}
% right labels
\Lb[14.2]{839}{411}{MAULE}\Lb[14]{985}{411}{LINARES}\Lb[14.2]{1103}{407}{PARRAL}
\Lb[9.5]{864}{452}{C. LIRCAY}\Lb[9.5]{925}{444}{C. MARIPOSAS}
\Lb{1088}{474}{C. LINARES}\Lb{1107}{557}{C. SAN}\Lb{1108}{572}{GREGORIO}
\Lb[14.2]{1106}{617}{PARRAL}\Lr[9]{1037}{576}{LONGAVÍ}\Lr[9]{1063}{571}{RETIRO}
\Lr[9.6]{883}{607}{SAN MIGUEL}\Lr[9.2]{939}{592}{VILLA ALEGRE}
\Lb[9.5]{1040}{644}{LINARES NORTE}\Lb[9.4]{912}{688}{LA PALMA}
\Lb[12.7]{1005}{662}{SAN JAVIER}\Lb[14.3]{1013}{684}{S/E VIÑALES}
\Lb[12.7]{1086}{702}{C. CONSTITUCIÓN}\Lb{928}{715}{C. CELCO}\Lb{928}{821}{C. MAULE}
\Lb[12.6]{1054}{817}{C. CONST. ELECTRAGEN}\Ln[9]{1138}{817}{1}
\end{tikzpicture}
\end{document}
